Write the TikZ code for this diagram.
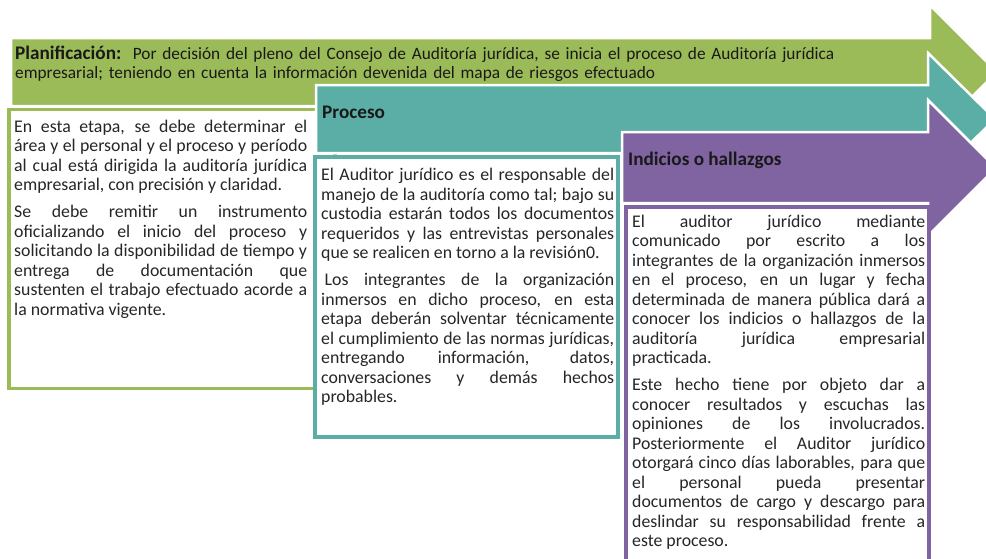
\documentclass[tikz,border=0pt]{standalone}
\usepackage{fontspec}
\setmainfont{Carlito}
\definecolor{planGreen}{HTML}{9BBB59}
\definecolor{procTeal}{HTML}{5BAEA5}
\definecolor{hallPurple}{HTML}{8064A2}
\begin{document}
\begin{tikzpicture}[x=1pt,y=-1pt,
  stagearrow/.style={draw=white,line width=2.5pt,line join=miter},
  stagebox/.style={fill=white,line width=3.2pt},
  headtext/.style={anchor=north west,inner sep=0pt,text=black!90,font=\fontsize{19.2}{19}\selectfont\bfseries},
  bodytext/.style={anchor=north west,inner sep=0pt,text width=293pt,align=justify,text=black!85,font=\fontsize{17.8}{19.5}\selectfont}]
\useasboundingbox (0,0) rectangle (986,558);
\clip (0,0) rectangle (986,558);

% Planificacion
\draw[stagearrow,fill=planGreen] (11,38) -- (930,38) -- (930,5) -- (997,72) -- (930,139) -- (930,106) -- (11,106) -- cycle;
\node[headtext,text width=950pt,align=left,font=\fontsize{17.3}{19}\selectfont] (plan_head) at (15,45.5)
  {{\fontsize{19.2}{19}\selectfont\bfseries Planificación:}\ \ Por decisión del pleno del Consejo de Auditoría jurídica, se inicia el proceso de Auditoría jurídica\\
   empresarial; teniendo en cuenta la información devenida del mapa de riesgos efectuado};
\draw[stagebox,draw=planGreen] (9,109.5) rectangle (335,388.5);
\node[bodytext] (plan_txt) at (14,119.5) {%
  En esta etapa, se debe determinar el\linebreak
  área y el personal y el proceso y período\linebreak
  al cual está dirigida la auditoría jurídica\linebreak
  empresarial, con precisión y claridad.\par\vspace{7.5pt}
  Se debe remitir un instrumento\linebreak
  oficializando el inicio del proceso y\linebreak
  solicitando la disponibilidad de tiempo y\linebreak
  entrega de documentación que\linebreak
  sustenten el trabajo efectuado acorde a\linebreak
  la normativa vigente.};

% Proceso
\draw[stagearrow,fill=procTeal] (316,85) -- (928,85) -- (928,53) -- (995,119) -- (928,185) -- (928,153) -- (316,153) -- cycle;
\node[headtext] (proc_head) at (322,105.5) {Proceso};
\draw[stagebox,draw=procTeal] (315,157) rectangle (618,437);
\node[bodytext] (proc_txt) at (321,168) {%
  El Auditor jurídico es el responsable del\linebreak
  manejo de la auditoría como tal; bajo su\linebreak
  custodia estarán todos los documentos\linebreak
  requeridos y las entrevistas personales\linebreak
  que se realicen en torno a la revisión0.\par\vspace{7.5pt}
  \hspace*{3.5pt}Los integrantes de la organización\linebreak
  inmersos en dicho proceso, en esta\linebreak
  etapa deberán solventar técnicamente\linebreak
  el cumplimiento de las normas jurídicas,\linebreak
  entregando información, datos,\linebreak
  conversaciones y demás hechos\linebreak
  probables.};

% Indicios o hallazgos
\draw[stagearrow,fill=hallPurple] (622,132) -- (928,132) -- (928,100) -- (996,168) -- (928,236) -- (928,203) -- (622,203) -- cycle;
\node[headtext] (hall_head) at (628,151.5) {Indicios o hallazgos};
\draw[stagebox,draw=hallPurple] (626,207) rectangle (929,580);
\node[bodytext] (hall_txt) at (632,214.5) {%
  El auditor jurídico mediante\linebreak
  comunicado por escrito a los\linebreak
  integrantes de la organización inmersos\linebreak
  en el proceso, en un lugar y fecha\linebreak
  determinada de manera pública dará a\linebreak
  conocer los indicios o hallazgos de la\linebreak
  auditoría jurídica empresarial\linebreak
  practicada.\par\vspace{7.5pt}
  Este hecho tiene por objeto dar a\linebreak
  conocer resultados y escuchas las\linebreak
  opiniones de los involucrados.\linebreak
  Posteriormente el Auditor jurídico\linebreak
  otorgará cinco días laborables, para que\linebreak
  el personal pueda presentar\linebreak
  documentos de cargo y descargo para\linebreak
  deslindar su responsabilidad frente a\linebreak
  este proceso.};
\end{tikzpicture}
\end{document}
